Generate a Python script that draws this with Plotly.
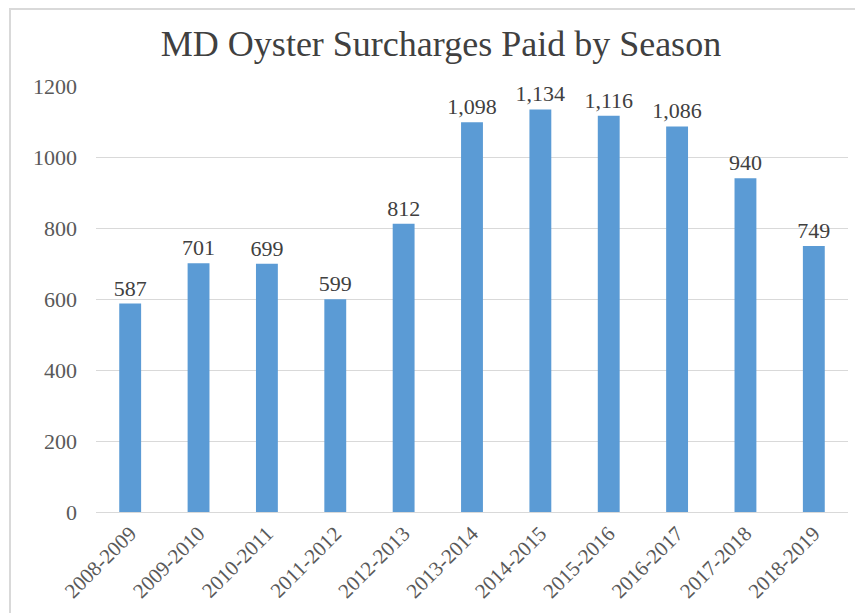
import plotly.graph_objects as go

seasons = ["2008-2009", "2009-2010", "2010-2011", "2011-2012", "2012-2013", "2013-2014",
           "2014-2015", "2015-2016", "2016-2017", "2017-2018", "2018-2019"]
surcharges = [587, 701, 699, 599, 812, 1098, 1134, 1116, 1086, 940, 749]
y_ticks = [0, 200, 400, 600, 800, 1000, 1200]

# page body has an 8px margin, so the figure is drawn 8px in from the window edges
OFF = 8
W, H = 863 - OFF, 613 - OFF
L, R, T, B = 96 - OFF, 15, 86 - OFF, 101
pw, ph = W - L - R, H - T - B

serif = "Liberation Serif"

fig = go.Figure(go.Bar(
    x=seasons, y=surcharges,
    marker=dict(color="#5B9BD5", line=dict(width=0)),
    texttemplate="%{y:,}", textposition="outside", cliponaxis=False,
    constraintext="none",
    textfont=dict(family=serif, size=22, color="#404040"),
))

fig.update_layout(
    width=W, height=H,
    margin=dict(l=L, r=R, t=T, b=B, autoexpand=False),
    paper_bgcolor="white", plot_bgcolor="white",
    bargap=0.68,
    showlegend=False,
    title=dict(text="MD Oyster Surcharges Paid by Season", x=(441 - OFF) / W, xanchor="center",
               y=1 - (43 - OFF) / H, yanchor="middle",
               font=dict(family=serif, size=36, color="#404040")),
    xaxis=dict(tickangle=-45, tickfont=dict(family=serif, size=21, color="#595959"),
               showgrid=False, showline=True, linecolor="#d9d9d9", linewidth=1,
               ticks="", automargin=False, fixedrange=True),
    yaxis=dict(range=[0, 1200], tickvals=y_ticks, showgrid=True, gridcolor="#d9d9d9",
               gridwidth=1, zeroline=False, showline=False, ticks="",
               ticklabelstandoff=18, automargin=False,
               tickfont=dict(family=serif, size=22, color="#595959")),
    shapes=[dict(type="rect", xref="paper", yref="paper",
                 x0=(2 - L) / pw, x1=(W + 20 - L) / pw,
                 y0=(H - B - (H + 20)) / ph, y1=(H - B - 1) / ph,
                 line=dict(color="#d9d9d9", width=2), fillcolor="rgba(0,0,0,0)",
                 layer="below")],
)

fig.write_html("out.html")
